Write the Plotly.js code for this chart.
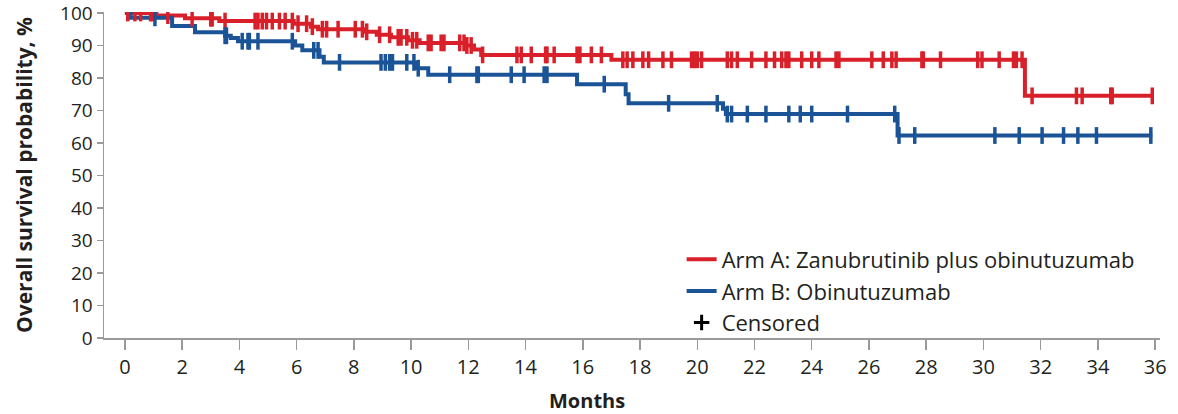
<!DOCTYPE html>
<html>
<head>
<meta charset="utf-8">
<script src="https://cdn.plot.ly/plotly-3.0.1.min.js"></script>
<style>
html,body{margin:0;padding:0;background:#fff;}
#chart{width:1178px;height:414px;}
</style>
</head>
<body>
<div id="chart"></div>
<script>
// Arm A: Zanubrutinib plus obinutuzumab (step times in months, survival %)
const armA_time = [0, 1.1, 2.1, 3.3, 5.9, 6.5, 6.75, 8.4, 8.8, 9.3, 9.9, 10.3, 11.9, 12.2, 12.45, 17.0, 31.45, 35.9];
const armA_surv = [100, 99.2, 98.4, 97.5, 96.7, 95.8, 95.0, 94.2, 93.3, 92.5, 91.6, 90.8, 90.0, 88.8, 87.1, 85.6, 74.5, 74.5];
const armA_censor = [0.1, 0.35, 0.55, 0.9, 0.95, 1.5, 2.35, 3.0, 3.05, 3.5, 4.55, 4.65, 4.8, 4.95, 5.15, 5.4, 5.6, 5.85, 6.05, 6.35, 6.55, 6.9, 7.05, 7.45, 8.05, 8.3, 8.45, 8.9, 9.25, 9.55, 9.65, 9.85, 10.05, 10.2, 10.6, 10.7, 11.05, 11.15, 11.7, 11.85, 11.95, 12.1, 12.5, 13.7, 13.85, 14.2, 14.7, 14.75, 15.0, 15.8, 15.9, 16.3, 16.65, 17.4, 17.55, 17.75, 18.1, 18.3, 18.8, 19.1, 19.8, 19.9, 20.0, 20.15, 21.05, 21.2, 21.4, 21.9, 22.4, 22.7, 22.95, 23.1, 23.2, 23.65, 24.0, 24.25, 24.85, 24.95, 26.1, 26.5, 26.8, 26.95, 27.85, 27.9, 28.5, 29.8, 29.95, 30.55, 31.05, 31.15, 31.35, 31.7, 33.25, 33.45, 34.45, 34.5, 35.9];

// Arm B: Obinutuzumab
const armB_time = [0, 0.2, 1.65, 2.45, 3.5, 3.7, 3.95, 5.95, 6.2, 6.8, 6.95, 10.2, 10.6, 15.8, 17.5, 17.6, 20.9, 21.0, 27.0, 35.9];
const armB_surv = [100, 98.5, 96.0, 94.1, 93.0, 92.3, 91.3, 90.0, 88.5, 86.5, 84.8, 83.0, 81.0, 78.1, 75.0, 72.2, 70.5, 68.9, 62.3, 62.3];
const armB_censor = [1.05, 3.5, 3.55, 4.1, 4.3, 4.35, 4.65, 5.85, 6.6, 6.75, 7.5, 8.95, 9.1, 9.25, 9.35, 9.85, 10.1, 10.25, 11.35, 12.3, 12.35, 13.5, 13.95, 14.65, 14.75, 16.75, 19.0, 20.7, 21.05, 21.2, 21.75, 22.4, 23.2, 23.6, 24.0, 25.25, 26.9, 27.05, 27.6, 30.4, 31.25, 32.05, 32.8, 33.3, 33.95, 35.85];

const xTicks = [0,2,4,6,8,10,12,14,16,18,20,22,24,26,28,30,32,34,36];
const yTicks = [0,10,20,30,40,50,60,70,80,90,100];

const names = ["Arm A: Zanubrutinib plus obinutuzumab", "Arm B: Obinutuzumab", "Censored"];
const RED = "#D9202A", BLUE = "#1A5496";

function stepAt(times, surv, t) {
  let v = surv[0];
  for (let i = 0; i < times.length; i++) { if (times[i] <= t) v = surv[i]; }
  return v;
}

const FONT = "'Open Sans', 'DejaVu Sans', sans-serif";
const TXT = "#231f20";

const traces = [
  {x: armA_time, y: armA_surv, mode: "lines", line: {shape: "hv", color: RED, width: 4},
   name: names[0], legendgroup: "a", hoverinfo: "skip"},
  {x: armB_time, y: armB_surv, mode: "lines", line: {shape: "hv", color: BLUE, width: 4},
   name: names[1], legendgroup: "b", hoverinfo: "skip"},
  {x: armA_censor, y: armA_censor.map(t => stepAt(armA_time, armA_surv, t)), mode: "markers",
   marker: {symbol: "line-ns-open", size: 12, color: RED, line: {color: RED, width: 3.5}},
   showlegend: false, hoverinfo: "skip"},
  {x: armB_censor, y: armB_censor.map(t => stepAt(armB_time, armB_surv, t)), mode: "markers",
   marker: {symbol: "line-ns-open", size: 12, color: BLUE, line: {color: BLUE, width: 3.5}},
   showlegend: false, hoverinfo: "skip"},
  {x: [null], y: [null], mode: "markers", name: names[2], legendgroup: "c",
   marker: {symbol: "cross-thin-open", size: 11, color: "#000", line: {color: "#000", width: 3}}}
];

const layout = {
  width: 1178, height: 414,
  margin: {l: 104, r: 18, t: 12, b: 76},
  paper_bgcolor: "#fff", plot_bgcolor: "#fff",
  font: {family: FONT, color: TXT},
  showlegend: true,
  legend: {x: 0.547, xanchor: "left", y: 0.305, yanchor: "top", bgcolor: "rgba(0,0,0,0)",
           font: {size: 22, family: FONT, color: TXT}, tracegroupgap: 0, itemwidth: 30},
  xaxis: {range: [-0.73, 36.17], tickvals: xTicks, ticktext: xTicks.map(String),
          showgrid: false, zeroline: false, showline: true, linecolor: "#9a9a9a", linewidth: 1.5,
          ticks: "outside", ticklen: 10, tickcolor: "#9a9a9a", tickwidth: 1.5,
          tickfont: {size: 20, family: FONT, color: TXT}, fixedrange: true},
  yaxis: {range: [0, 100.3], tickvals: yTicks, ticktext: yTicks.map(String),
          ticklabeloverflow: "allow",
          showgrid: false, zeroline: false, showline: true, linecolor: "#9a9a9a", linewidth: 1.5,
          ticks: "outside", ticklen: 6, tickcolor: "#9a9a9a", tickwidth: 1.5,
          tickfont: {size: 19, family: FONT, color: TXT},
          title: {text: "<b>Overall survival probability, %</b>", font: {size: 21, family: FONT, color: TXT}, standoff: 22},
          fixedrange: true},
  annotations: [
    {text: "<b>Months</b>", xref: "paper", yref: "paper", x: (587 - 104) / 1056, y: -62 / 326,
     xanchor: "center", yanchor: "middle", showarrow: false, font: {size: 20, family: FONT, color: TXT}}
  ]
};

Plotly.newPlot("chart", traces, layout, {staticPlot: true, displayModeBar: false});
</script>
</body>
</html>
